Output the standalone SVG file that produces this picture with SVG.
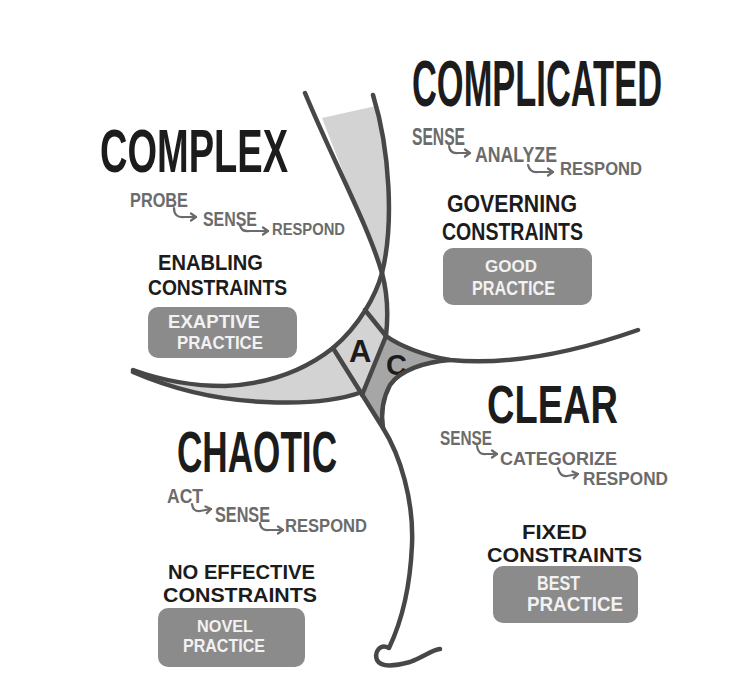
<svg xmlns="http://www.w3.org/2000/svg" width="744" height="688" viewBox="0 0 744 688">
<defs>
<marker id="ah" markerUnits="userSpaceOnUse" markerWidth="10" markerHeight="10" refX="7" refY="5" orient="auto">
<path d="M2,1.5 L7,5 L2,8.5" fill="none" stroke="#6b6b6b" stroke-width="2.2" stroke-linecap="round" stroke-linejoin="round"/>
</marker>
<style>
.bd{fill:none;stroke:#474747;stroke-width:4.5;stroke-linecap:round;stroke-linejoin:round}
.lt{fill:#d3d3d3}
.md{fill:#a6a6a6}
.ttl{font-family:"Liberation Sans",Arial,sans-serif;font-weight:bold;fill:#1c1c1c}
.stp{font-family:"Liberation Sans",Arial,sans-serif;font-weight:bold;fill:#6b6b6b}
.cst{font-family:"Liberation Sans",Arial,sans-serif;font-weight:bold;fill:#1c1c1c}
.box{fill:#8b8b8b}
.bt{font-family:"Liberation Sans",Arial,sans-serif;font-weight:bold;fill:#f2f2f2}
.ar{fill:none;stroke:#6b6b6b;stroke-width:2.2;stroke-linecap:round;marker-end:url(#ah)}
</style>
</defs>
<rect width="744" height="688" fill="#ffffff"/>

<g id="confused">
<path class="lt" d="M322,118 L376,106 C 390,160 392,225 382,273 C 365,225 340,165 322,118 Z"/>
<path class="lt" d="M382,273 C 388,295 388,318 386,336 L365,310 C 372,300 378,288 382,273 Z"/>
<path class="lt" d="M365,310 L386,336 L362,395 L333,348 C 348,335 358,322 365,310 Z"/>
<path class="lt" d="M133,370 C 155,378 185,386 225,386 C 270,384 305,370 333,348 L362,392 C 340,400 305,404 265,402 C 215,400 170,388 133,372 Z"/>
<path class="md" d="M386,336 C 400,346 425,356 450,360 C 425,362 400,370 390,385 C 382,400 381,415 383,428 L362,395 Z"/>
<text class="ttl" x="349" y="362" font-size="31">A</text>
<text class="ttl" x="386" y="375" font-size="29">C</text>
</g>

<g id="boundaries">
<path class="bd" d="M305,93 C 335,165 368,225 382,273 C 388,295 388,318 386,336 C 400,346 425,356 450,360 C 510,366 575,352 638,330"/>
<path class="bd" d="M373,95 C 390,150 394,225 382,273 C 376,295 360,325 333,348 C 305,370 270,384 225,386 C 185,386 155,378 133,370"/>
<path class="bd" d="M133,372 C 170,388 215,400 265,402 C 305,404 340,400 362,392"/>
<path class="bd" d="M333,348 L383,428 C 400,455 414,500 412,545 C 410,590 400,625 389,648 C 380,643 374,652 377,660 C 381,668 395,666 410,662 C 425,656 432,650 440,649"/>
<path class="bd" d="M365,310 L386,336"/>
<path class="bd" d="M386,336 L362,395"/>
<path class="bd" d="M450,360 C 425,362 400,370 390,385 C 382,400 381,415 383,428"/>
</g>

<g id="complex">
<text class="ttl" x="100" y="172" font-size="62" textLength="188" lengthAdjust="spacingAndGlyphs">COMPLEX</text>
<text class="stp" x="130" y="207" font-size="20" textLength="58" lengthAdjust="spacingAndGlyphs">PROBE</text>
<text class="stp" x="203" y="226" font-size="20" textLength="54" lengthAdjust="spacingAndGlyphs">SENSE</text>
<text class="stp" x="272" y="235" font-size="16" textLength="73" lengthAdjust="spacingAndGlyphs">RESPOND</text>
<text class="cst" x="158" y="270" font-size="22" textLength="105" lengthAdjust="spacingAndGlyphs">ENABLING</text>
<text class="cst" x="148" y="295" font-size="22" textLength="139" lengthAdjust="spacingAndGlyphs">CONSTRAINTS</text>
<rect class="box" x="148" y="307" width="149" height="51" rx="10"/>
<text class="bt" x="168" y="328" font-size="19" textLength="92" lengthAdjust="spacingAndGlyphs">EXAPTIVE</text>
<text class="bt" x="177" y="349" font-size="19" textLength="86" lengthAdjust="spacingAndGlyphs">PRACTICE</text>
</g>

<g id="complicated">
<text class="ttl" transform="translate(412,106) scale(1,1.6)" x="0" y="0" font-size="40" textLength="250" lengthAdjust="spacingAndGlyphs">COMPLICATED</text>
<text class="stp" x="412" y="145" font-size="24" textLength="53" lengthAdjust="spacingAndGlyphs">SENSE</text>
<text class="stp" x="475" y="162" font-size="22" textLength="82" lengthAdjust="spacingAndGlyphs">ANALYZE</text>
<text class="stp" x="560" y="175" font-size="18" textLength="82" lengthAdjust="spacingAndGlyphs">RESPOND</text>
<text class="cst" x="447" y="212" font-size="23" textLength="130" lengthAdjust="spacingAndGlyphs">GOVERNING</text>
<text class="cst" x="442" y="240" font-size="23" textLength="141" lengthAdjust="spacingAndGlyphs">CONSTRAINTS</text>
<rect class="box" x="443" y="248" width="149" height="57" rx="10"/>
<text class="bt" x="485" y="272" font-size="17" textLength="52" lengthAdjust="spacingAndGlyphs">GOOD</text>
<text class="bt" x="472" y="295" font-size="20" textLength="83" lengthAdjust="spacingAndGlyphs">PRACTICE</text>
</g>

<g id="clear">
<text class="ttl" x="487" y="423" font-size="54" textLength="131" lengthAdjust="spacingAndGlyphs">CLEAR</text>
<text class="stp" x="440" y="445" font-size="20" textLength="52" lengthAdjust="spacingAndGlyphs">SENSE</text>
<text class="stp" x="500" y="465" font-size="18" textLength="117" lengthAdjust="spacingAndGlyphs">CATEGORIZE</text>
<text class="stp" x="583" y="485" font-size="19" textLength="85" lengthAdjust="spacingAndGlyphs">RESPOND</text>
<text class="cst" x="522" y="539" font-size="20" textLength="65" lengthAdjust="spacingAndGlyphs">FIXED</text>
<text class="cst" x="487" y="562" font-size="21" textLength="155" lengthAdjust="spacingAndGlyphs">CONSTRAINTS</text>
<rect class="box" x="493" y="566" width="145" height="57" rx="10"/>
<text class="bt" x="537" y="590" font-size="20" textLength="43" lengthAdjust="spacingAndGlyphs">BEST</text>
<text class="bt" x="527" y="611" font-size="20" textLength="96" lengthAdjust="spacingAndGlyphs">PRACTICE</text>
</g>

<g id="chaotic">
<text class="ttl" x="177" y="472" font-size="58" textLength="160" lengthAdjust="spacingAndGlyphs">CHAOTIC</text>
<text class="stp" x="167" y="503" font-size="20" textLength="36" lengthAdjust="spacingAndGlyphs">ACT</text>
<text class="stp" x="215" y="522" font-size="22" textLength="55" lengthAdjust="spacingAndGlyphs">SENSE</text>
<text class="stp" x="285" y="532" font-size="18" textLength="82" lengthAdjust="spacingAndGlyphs">RESPOND</text>
<text class="cst" x="168" y="579" font-size="20" textLength="147" lengthAdjust="spacingAndGlyphs">NO EFFECTIVE</text>
<text class="cst" x="163" y="602" font-size="21" textLength="154" lengthAdjust="spacingAndGlyphs">CONSTRAINTS</text>
<rect class="box" x="158" y="608" width="147" height="59" rx="10"/>
<text class="bt" x="197" y="632" font-size="17" textLength="56" lengthAdjust="spacingAndGlyphs">NOVEL</text>
<text class="bt" x="183" y="652" font-size="19" textLength="82" lengthAdjust="spacingAndGlyphs">PRACTICE</text>
</g>

<g id="connectors">
<path class="ar" d="M174,208 Q174,218 184,217 L196,217"/>
<path class="ar" d="M240,225 Q241,232 250,231 L268,231"/>
<path class="ar" d="M449,146 Q450,154 458,153 L470,153"/>
<path class="ar" d="M528,165 Q530,173 538,172 L553,172"/>
<path class="ar" d="M477,446 Q478,455 486,454 L497,454"/>
<path class="ar" d="M558,468 Q560,477 567,476 L578,474"/>
<path class="ar" d="M192,504 Q193,512 200,511 L211,509"/>
<path class="ar" d="M260,523 Q261,531 269,530 L283,530"/>
</g>
</svg>
